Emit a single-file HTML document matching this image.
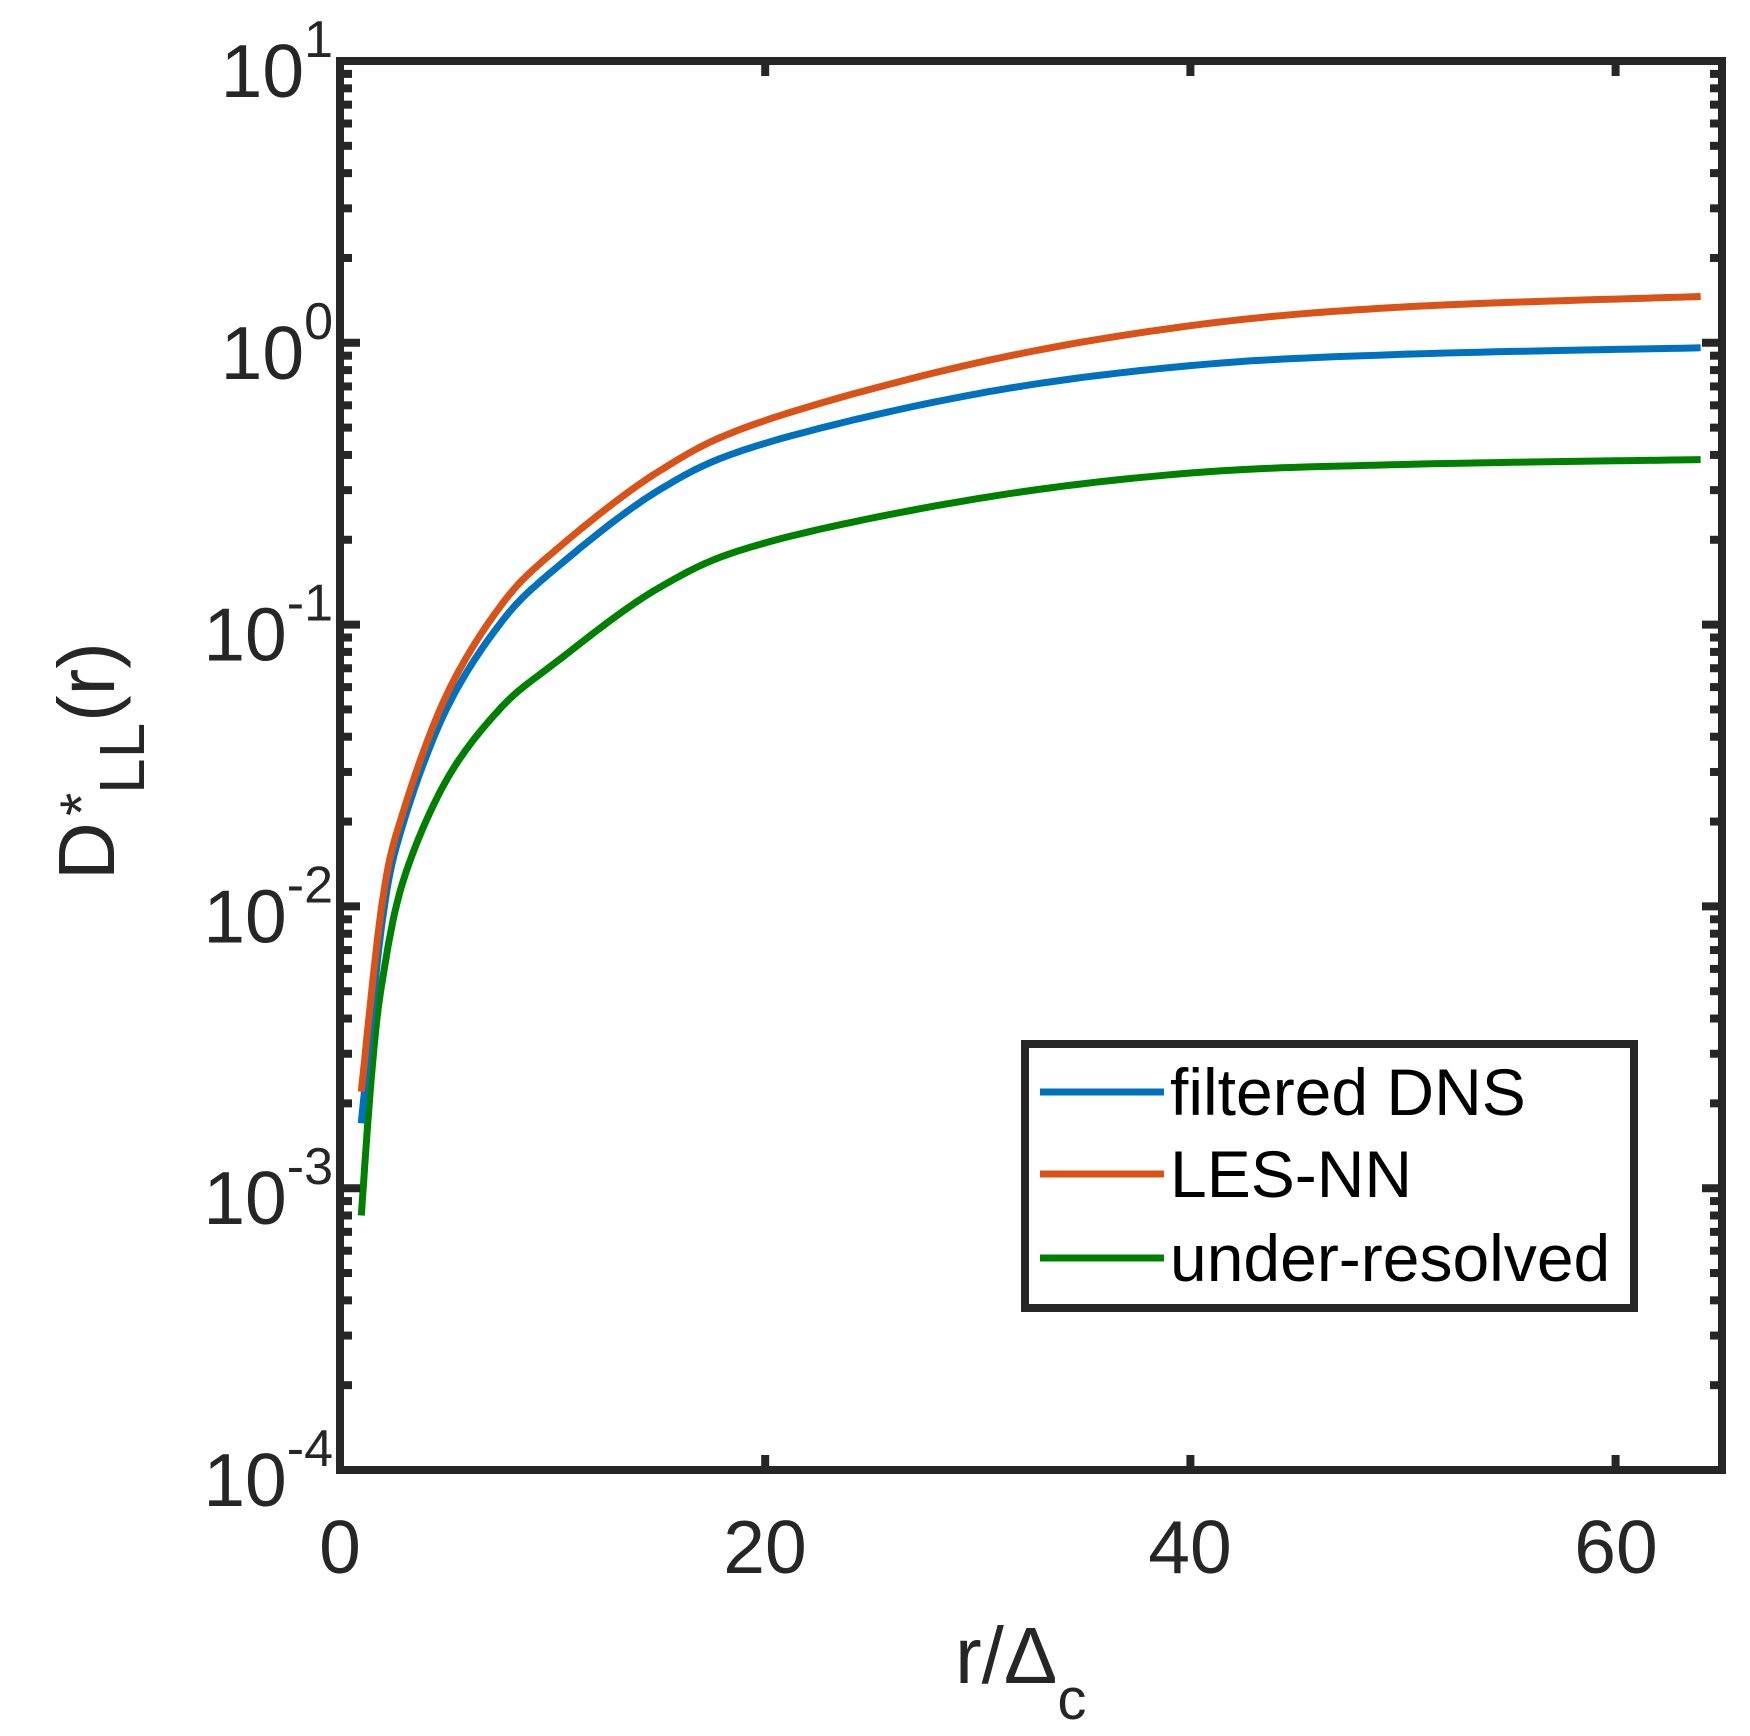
<!DOCTYPE html>
<html><head><meta charset="utf-8"><style>
html,body{margin:0;padding:0;background:#fff;}
svg{display:block;font-family:"Liberation Sans",Arial,sans-serif;}
</style></head><body>
<svg id="s" width="1750" height="1736" viewBox="0 0 1750 1736" xmlns="http://www.w3.org/2000/svg">
<rect width="1750" height="1736" fill="#fff"/>
<g id="curves" fill="none" stroke-width="7" stroke-linejoin="round"></g>
<g id="ticks" stroke="#262626" stroke-width="8"></g>
<rect x="340" y="61" width="1382" height="1409" fill="none" stroke="#262626" stroke-width="8"/>
<g fill="#262626" id="labels"></g>
<g font-size="75" fill="#262626" text-anchor="middle">
<text x="340" y="1573">0</text>
<text x="765" y="1573">20</text>
<text x="1190" y="1573">40</text>
<text x="1616" y="1573">60</text>
</g>
<text x="955" y="1683" font-size="80" fill="#262626">r/Δ<tspan font-size="58" dy="36">c</tspan></text>
<g transform="translate(114,880) rotate(-90)" fill="#262626">
<text x="0" y="0" font-size="80">D</text>
<text x="64" y="-12" font-size="60">*</text>
<text x="86" y="30" font-size="64">LL</text>
<text x="158" y="0" font-size="80">(r)</text>
</g>
<rect x="1025" y="1044" width="609" height="264" fill="#fff" stroke="#262626" stroke-width="8"/>
<line x1="1040" y1="1092" x2="1164" y2="1092" stroke="#0072BD" stroke-width="7"/>
<line x1="1040" y1="1174" x2="1164" y2="1174" stroke="#D95319" stroke-width="7"/>
<line x1="1040" y1="1258" x2="1164" y2="1258" stroke="#008000" stroke-width="7"/>
<g font-size="66" fill="#000">
<text x="1170" y="1115">filtered DNS</text>
<text x="1170" y="1197">LES-NN</text>
<text x="1170" y="1281">under-resolved</text>
</g>
</svg>
<script>
var NS="http://www.w3.org/2000/svg";
function X(r){return 340+r*21.26;}
function Y(v){return 61+(1-Math.log10(v))*281.8;}
function el(t,a,p){var e=document.createElementNS(NS,t);for(var k in a)e.setAttribute(k,a[k]);p.appendChild(e);return e;}
var T=document.getElementById('ticks');
for(var d=-4;d<=1;d++){
 var y=Y(Math.pow(10,d));
 el('line',{x1:340,y1:y,x2:360,y2:y},T);
 el('line',{x1:1722,y1:y,x2:1702,y2:y},T);
 if(d<1)for(var m=2;m<=9;m++){var yy=Y(m*Math.pow(10,d));
  el('line',{x1:340,y1:yy,x2:352,y2:yy},T);
  el('line',{x1:1722,y1:yy,x2:1710,y2:yy},T);}
}
[20,40,60].forEach(function(r){var x=X(r);
 el('line',{x1:x,y1:1470,x2:x,y2:1455},T);el('line',{x1:x,y1:61,x2:x,y2:76},T);});
var L=document.getElementById('labels');
for(var d=-4;d<=1;d++){
 var y=Y(Math.pow(10,d));
 var t=el('text',{x:333,y:y+36,'font-size':75,'text-anchor':'end'},L);
 t.appendChild(document.createTextNode('10'));
 var ts=el('tspan',{'font-size':52,dy:-40},t);
 ts.textContent=(d<0?'-':'')+Math.abs(d);
}
var data={
 '#0072BD':[[1,1.7e-3],[2,9e-3],[3,0.02],[5,0.05],[7.5,0.1],[10,0.155],[15,0.3],[20,0.44],[30,0.66],[40,0.83],[50,0.91],[64,0.96]],
 '#D95319':[[1,2.2e-3],[2,0.0105],[3,0.022],[5,0.056],[7.5,0.115],[10,0.18],[15,0.35],[20,0.53],[30,0.85],[40,1.15],[50,1.34],[64,1.46]],
 '#008000':[[1,8e-4],[1.5,2.6e-3],[2,5.5e-3],[3,0.0125],[5,0.028],[7.5,0.05],[10,0.072],[15,0.135],[20,0.195],[30,0.28],[40,0.345],[50,0.37],[64,0.385]]
};
var C=document.getElementById('curves');
['#008000','#0072BD','#D95319'].forEach(function(c){
 var p=data[c].map(function(q){return [X(q[0]),Y(q[1])];});
 var pts=[];
 for(var i=0;i<p.length-1;i++){
  var p0=p[Math.max(0,i-1)],p1=p[i],p2=p[i+1],p3=p[Math.min(p.length-1,i+2)];
  for(var k=0;k<20;k++){var t=k/20,t2=t*t,t3=t2*t;
   var f=function(a,b,c2,d2){return 0.5*((2*b)+(-a+c2)*t+(2*a-5*b+4*c2-d2)*t2+(-a+3*b-3*c2+d2)*t3);};
   pts.push(f(p0[0],p1[0],p2[0],p3[0]).toFixed(1)+','+f(p0[1],p1[1],p2[1],p3[1]).toFixed(1));}
 }
 pts.push(p[p.length-1][0]+','+p[p.length-1][1]);
 el('polyline',{points:pts.join(' '),stroke:c},C);
});
</script>
</body></html>
